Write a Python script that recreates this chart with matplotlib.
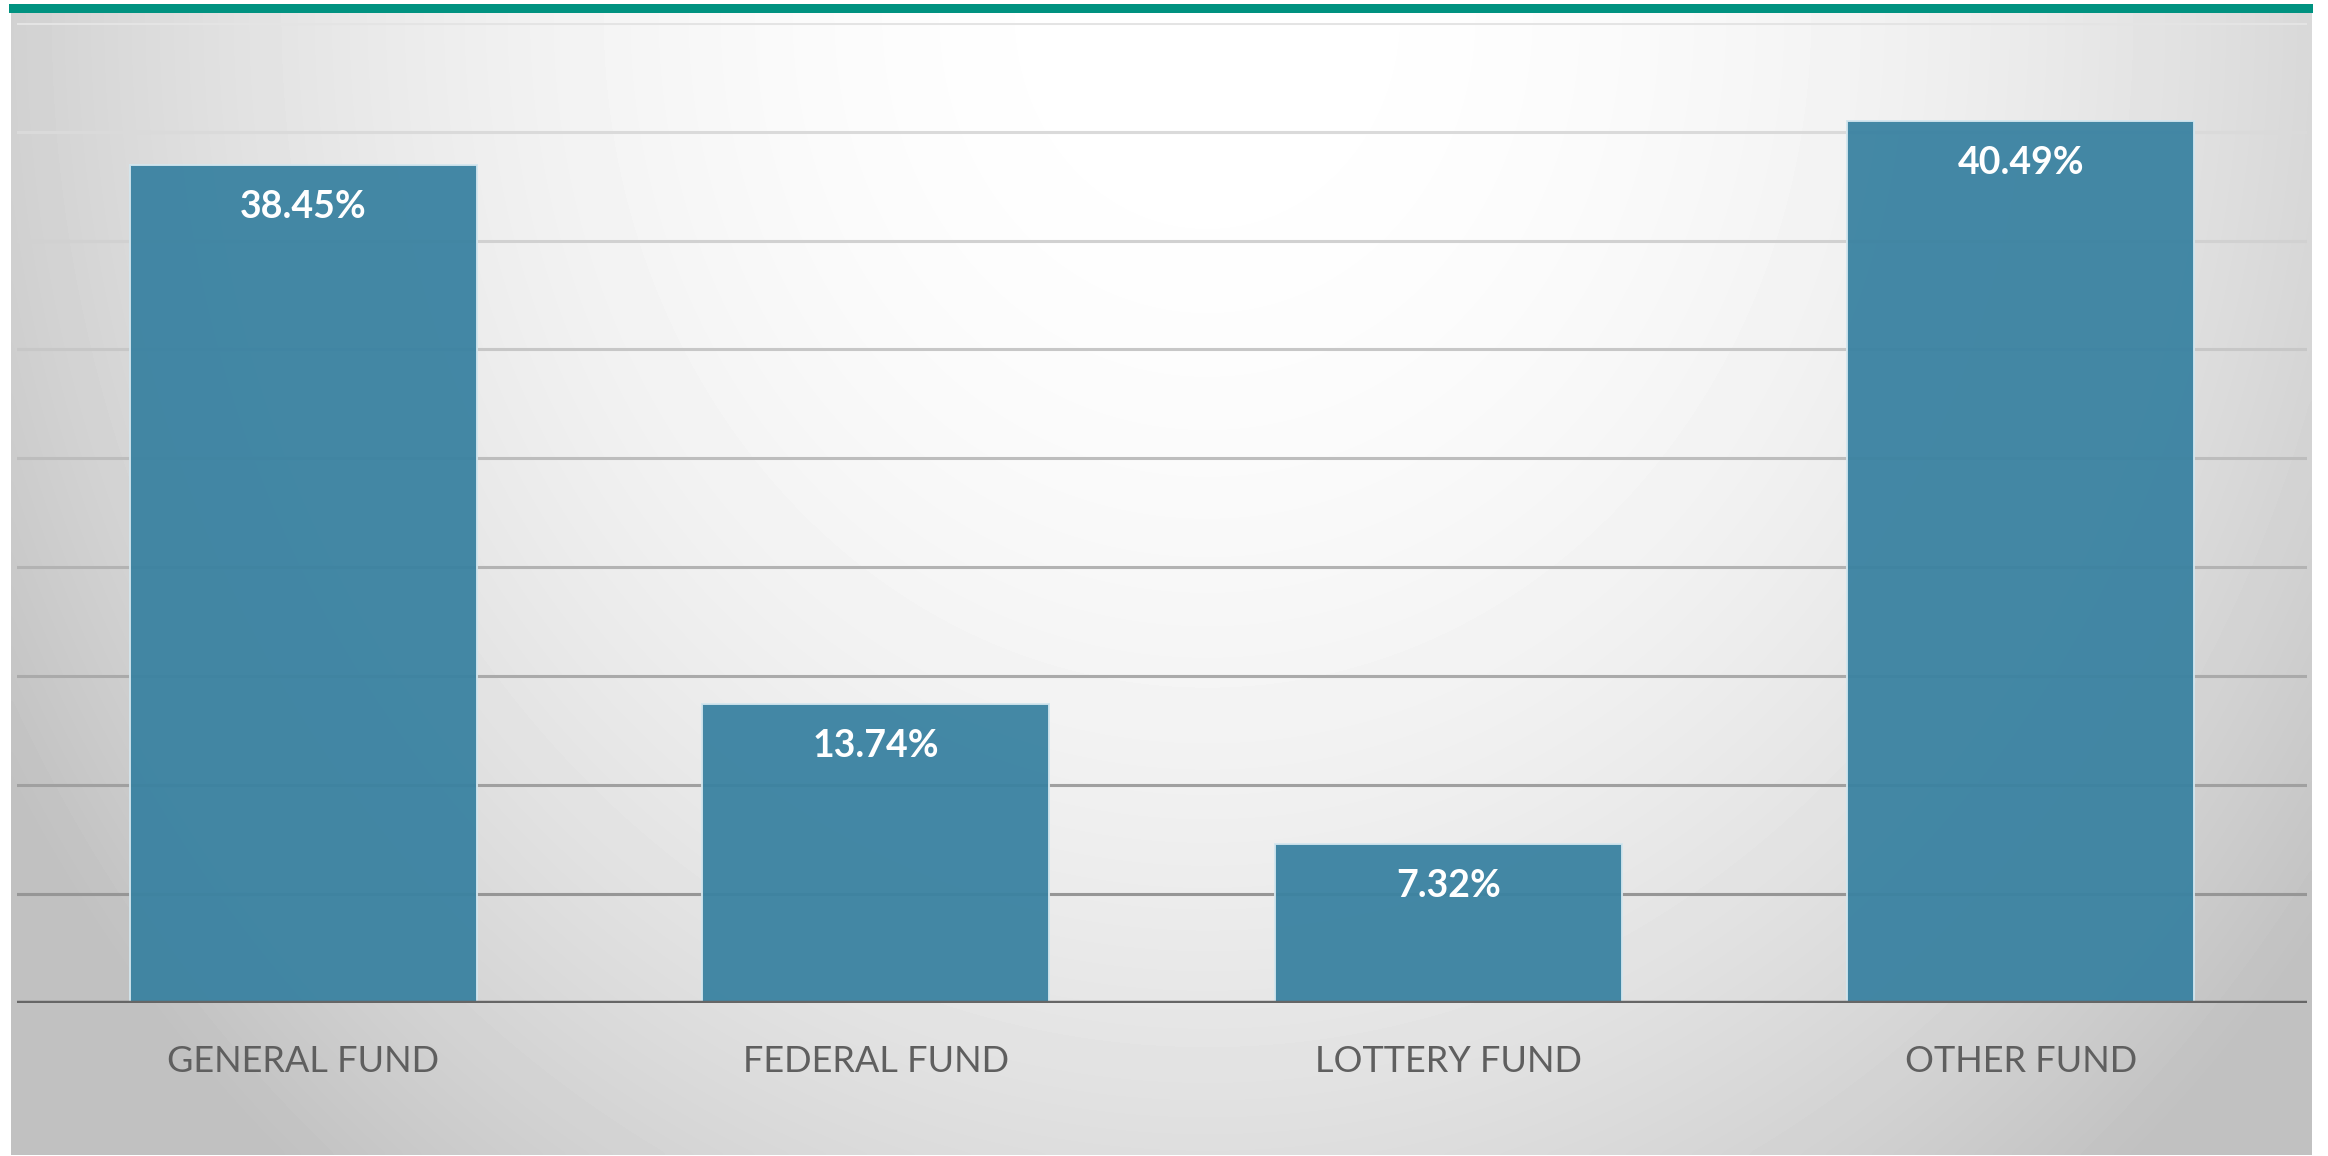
import numpy as np
import matplotlib.pyplot as plt

categories = ["GENERAL FUND", "FEDERAL FUND", "LOTTERY FUND", "OTHER FUND"]
shares = [38.45, 13.74, 7.32, 40.49]
labels = ["38.45%", "13.74%", "7.32%", "40.49%"]

W, H = 2328, 1156
fig = plt.figure(figsize=(W / 100, H / 100), dpi=100)
fig.patch.set_facecolor("white")

# gray panel with soft radial highlight near the top
bg = fig.add_axes([11 / W, 1 / H, (2312 - 11) / W, (1143) / H])
yy, xx = np.mgrid[0:1:300j, 0:1:600j]
d = np.sqrt(((xx - 0.52) / 0.6) ** 2 + ((yy - 0.0) / 1.35) ** 2)
shade = 255 - 62 * np.clip(d, 0, 1) ** 2.1
bg.imshow(shade, cmap="gray", vmin=0, vmax=255, aspect="auto",
          extent=[0, 1, 1, 0], interpolation="bicubic")
bg.set_axis_off()

# teal strip on top
strip = fig.add_axes([9 / W, (H - 13) / H, (2313 - 9) / W, 9 / H])
strip.set_facecolor("#009280")
strip.set_xticks([])
strip.set_yticks([])
for s in strip.spines.values():
    s.set_visible(False)

ax = fig.add_axes([17 / W, (H - 1003) / H, 2290 / W, (1003 - 22.7) / H])
ax.patch.set_alpha(0)
x = np.arange(len(categories))
ax.set_xlim(-0.5, 3.5)
ax.set_ylim(0, 45)

# gridlines fade from light at top to darker at bottom
grid_vals = np.arange(5, 50, 5)
for g in grid_vals:
    c = 150 + (228 - 150) * (g - 5) / 40
    ax.axhline(g, color=(c / 255, c / 255, c / 255), lw=2.2, zorder=1)
ax.axhline(0, color="#666666", lw=3.2, zorder=4)

bars = ax.bar(x, shares, width=0.606, color="#3A82A1", alpha=0.95,
              edgecolor="#d3e6ee", linewidth=1.4, zorder=2)

for b, lab in zip(bars, labels):
    ax.annotate(lab, (b.get_x() + b.get_width() / 2, b.get_height()),
                xytext=(0, -42), textcoords="offset pixels",
                ha="center", va="center", color="white", fontsize=27,
                fontweight="bold", family="Lato", zorder=5)

ax.set_xticks(x)
ax.set_xticklabels(categories, family="Lato", fontsize=26, color="#5f5f5f")
ax.tick_params(axis="x", length=0, pad=30)
ax.set_yticks([])
for s in ax.spines.values():
    s.set_visible(False)

fig.savefig("out.png", dpi=100)
